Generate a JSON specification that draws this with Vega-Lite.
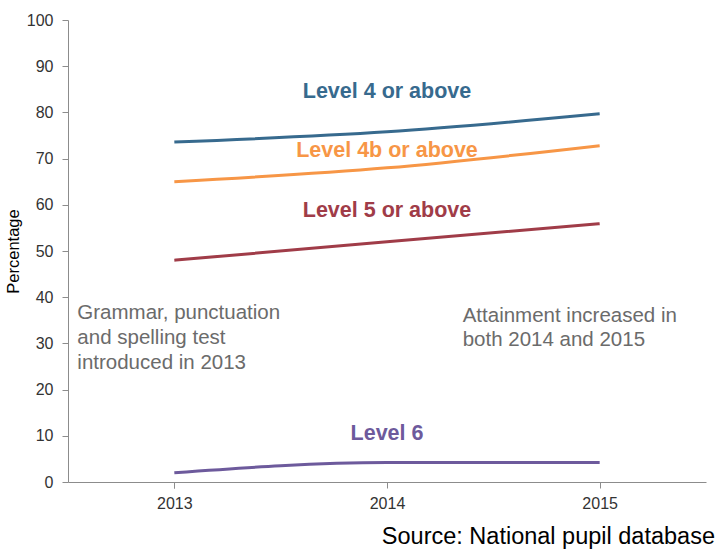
{
  "$schema": "https://vega.github.io/schema/vega-lite/v6.json",
  "autosize": "none",
  "width": 638,
  "height": 462,
  "padding": {"left": 68, "top": 20, "right": 11, "bottom": 69},
  "background": "white",
  "config": {"view": {"stroke": null}, "font": "Liberation Sans"},
  "title": {"text": "Source: National pupil database", "orient": "bottom", "anchor": "end", "fontSize": 23.5, "fontWeight": "normal", "color": "#000000", "font": "Liberation Sans", "offset": 14, "dx": 9},
  "datasets": {
    "series": [
      {"year": "2013", "level": "Level 4 or above", "pct": 73.6},
      {"year": "2014", "level": "Level 4 or above", "pct": 75.8},
      {"year": "2015", "level": "Level 4 or above", "pct": 79.7},
      {"year": "2013", "level": "Level 4b or above", "pct": 65},
      {"year": "2014", "level": "Level 4b or above", "pct": 68},
      {"year": "2015", "level": "Level 4b or above", "pct": 72.8},
      {"year": "2013", "level": "Level 5 or above", "pct": 48},
      {"year": "2014", "level": "Level 5 or above", "pct": 52},
      {"year": "2015", "level": "Level 5 or above", "pct": 55.9},
      {"year": "2013", "level": "Level 6", "pct": 2},
      {"year": "2014", "level": "Level 6", "pct": 4.2},
      {"year": "2015", "level": "Level 6", "pct": 4.2}
    ],
    "labels": [
      {"year": "2014", "level": "Level 4 or above", "pct": 84.4},
      {"year": "2014", "level": "Level 4b or above", "pct": 71.6},
      {"year": "2014", "level": "Level 5 or above", "pct": 58.6},
      {"year": "2014", "level": "Level 6", "pct": 10.3}
    ],
    "noteLeft": [
      {"year": "2013", "pct": 36.5, "line": "Grammar, punctuation"},
      {"year": "2013", "pct": 31.1, "line": "and spelling test"},
      {"year": "2013", "pct": 25.7, "line": "introduced in 2013"}
    ],
    "noteRight": [
      {"year": "2015", "pct": 36.0, "line": "Attainment increased in"},
      {"year": "2015", "pct": 30.7, "line": "both 2014 and 2015"}
    ]
  },
  "encoding": {
    "x": {
      "field": "year", "type": "ordinal",
      "scale": {"domain": ["2013", "2014", "2015"], "paddingInner": 0, "paddingOuter": 0},
      "axis": {"title": null, "labelAngle": 0, "labelFontSize": 16, "labelColor": "#333333", "labelPadding": 7, "domainColor": "#8c8c8c", "tickColor": "#8c8c8c", "tickSize": 6, "bandPosition": 1, "tickExtra": true, "labelFont": "Liberation Sans"}
    },
    "y": {
      "field": "pct", "type": "quantitative",
      "scale": {"domain": [0, 100]},
      "axis": {"title": "Percentage", "titleFontSize": 16.5, "titleFontWeight": "normal", "titleColor": "#000000", "titlePadding": 5, "titleFont": "Liberation Sans", "values": [0, 10, 20, 30, 40, 50, 60, 70, 80, 90, 100], "grid": false, "labelFontSize": 16, "labelColor": "#333333", "labelPadding": 9, "domainColor": "#8c8c8c", "tickColor": "#8c8c8c", "tickSize": 6, "labelFont": "Liberation Sans"}
    }
  },
  "layer": [
    {
      "data": {"name": "series"},
      "mark": {"type": "line", "strokeWidth": 3, "interpolate": "monotone"},
      "encoding": {
        "color": {"field": "level", "type": "nominal", "legend": null,
          "scale": {"domain": ["Level 4 or above", "Level 4b or above", "Level 5 or above", "Level 6"], "range": ["#376a8e", "#f79646", "#a03c48", "#6d5a9c"]}}
      }
    },
    {
      "data": {"name": "labels"},
      "mark": {"type": "text", "fontSize": 21.5, "fontWeight": "bold", "align": "center", "baseline": "middle", "font": "Liberation Sans"},
      "encoding": {
        "text": {"field": "level"},
        "color": {"field": "level", "type": "nominal", "legend": null}
      }
    },
    {
      "data": {"name": "noteLeft"},
      "mark": {"type": "text", "fontSize": 20.5, "align": "left", "baseline": "middle", "dx": -97, "color": "#6b6b6b", "font": "Liberation Sans"},
      "encoding": {"text": {"field": "line"}}
    },
    {
      "data": {"name": "noteRight"},
      "mark": {"type": "text", "fontSize": 20.5, "align": "left", "baseline": "middle", "dx": -137, "color": "#6b6b6b", "font": "Liberation Sans"},
      "encoding": {"text": {"field": "line"}}
    }
  ]
}
